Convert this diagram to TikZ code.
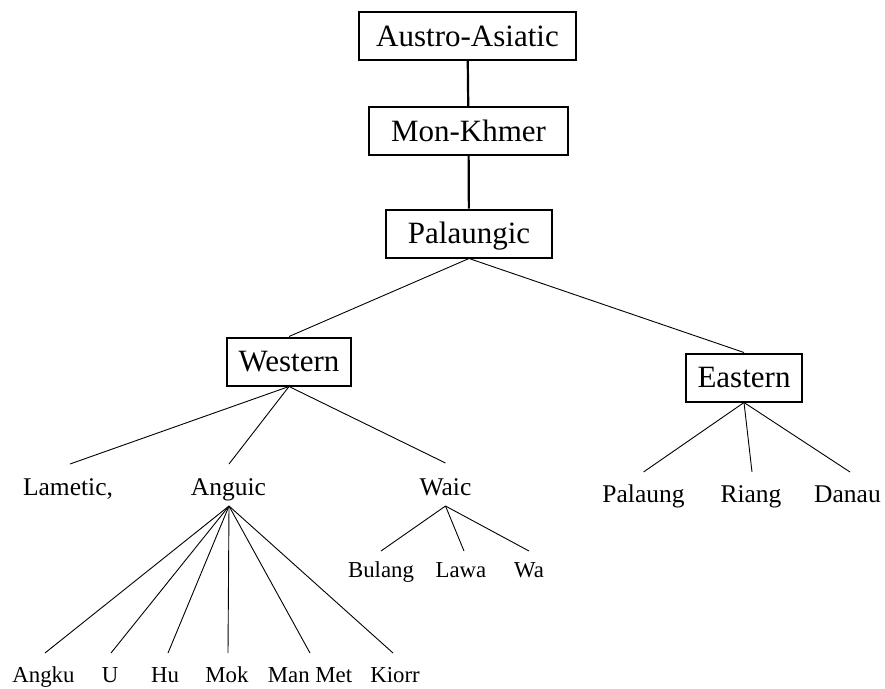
\documentclass[tikz,border=0pt]{standalone}
\usepackage{fontspec}
\setmainfont{Liberation Serif}
\begin{document}
\begin{tikzpicture}[x=1pt,y=-1pt,
  box/.style={draw,line width=2pt,inner sep=0pt,minimum height=48pt,
    font=\fontsize{31}{31}\selectfont,text height=20pt,text depth=0pt},
  lvA/.style={anchor=base,inner sep=0pt,font=\fontsize{25.5}{25.5}\selectfont},
  lvB/.style={anchor=base,inner sep=0pt,font=\fontsize{22.8}{22.8}\selectfont},
  thickline/.style={line width=2.2pt},
  thinline/.style={line width=0.9pt}]
\useasboundingbox (0,0) rectangle (885,688);
% boxes
\node[box,minimum width=217pt] (aa) at (467.5,36) {Austro-Asiatic};
\node[box,minimum width=199pt] (mk) at (468.5,131) {Mon-Khmer};
\node[box,minimum width=166pt] (pal) at (469,233.5) {Palaungic};
\node[box,minimum width=124pt] (west) at (289,361.5) {Western};
\node[box,minimum width=116pt] (east) at (744,377.5) {Eastern};
% level A leaves
\node[lvA] (lam) at (68,495) {Lametic,};
\node[lvA] (ang) at (228.5,495) {Anguic};
\node[lvA] (waic) at (445.5,495) {Waic};
\node[lvA] (palaung) at (643.5,502) {Palaung};
\node[lvA] (riang) at (751,502) {Riang};
\node[lvA] (danau) at (847.5,502) {Danau};
% level B leaves
\node[lvB] (bul) at (381,577) {Bulang};
\node[lvB] (lawa) at (461,577) {Lawa};
\node[lvB] (wa) at (529,577) {Wa};
\node[lvB] (angku) at (43.5,682) {Angku};
\node[lvB] (u) at (110,682) {U};
\node[lvB] (hu) at (165,682) {Hu};
\node[lvB] (mok) at (227,682) {Mok};
\node[lvB] (manmet) at (310,682) {Man Met};
\node[lvB] (kiorr) at (395,682) {Kiorr};
% connectors
\draw[thickline] (aa) -- (mk);
\draw[thickline] (mk) -- (pal);
\draw[thinline] (pal.south) -- (west.north);
\draw[thinline] (pal.south) -- (east.north);
\draw[thinline] (west.south) -- ([xshift=2pt,yshift=31pt]lam.base);
\draw[thinline] (west.south) -- ([xshift=0.5pt,yshift=31pt]ang.base);
\draw[thinline] (west.south) -- ([yshift=32pt]waic.base);
\draw[thinline] (east.south) -- ([yshift=30pt]palaung.base);
\draw[thinline] (east.south) -- ([xshift=1pt,yshift=30pt]riang.base);
\draw[thinline] (east.south) -- ([xshift=2.5pt,yshift=30pt]danau.base);
\coordinate (wb) at ([yshift=-11pt]waic.base);
\draw[thinline] (wb) -- ([yshift=26pt]bul.base);
\draw[thinline] (wb) -- ([xshift=3pt,yshift=26pt]lawa.base);
\draw[thinline] (wb) -- ([yshift=26pt]wa.base);
\coordinate (ab) at ([xshift=0.5pt,yshift=-11pt]ang.base);
\draw[thinline] (ab) -- ([xshift=1.5pt,yshift=29pt]angku.base);
\draw[thinline] (ab) -- ([xshift=1pt,yshift=29pt]u.base);
\draw[thinline] (ab) -- ([xshift=3pt,yshift=29pt]hu.base);
\draw[thinline] (ab) -- ([xshift=1pt,yshift=29pt]mok.base);
\draw[thinline] (ab) -- ([yshift=29pt]manmet.base);
\draw[thinline] (ab) -- ([xshift=-2pt,yshift=29pt]kiorr.base);
\end{tikzpicture}
\end{document}
